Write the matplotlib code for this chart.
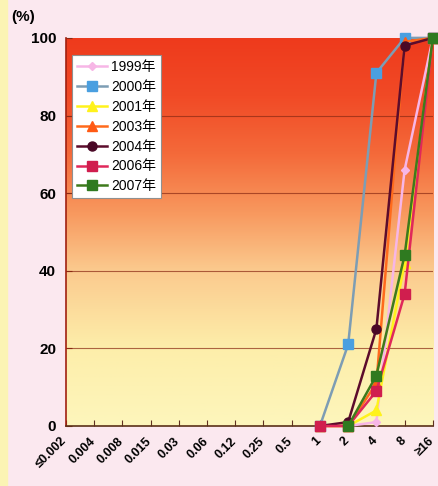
import matplotlib.pyplot as plt
from matplotlib.colors import LinearSegmentedColormap
from matplotlib.patches import Rectangle
from matplotlib.transforms import ScaledTranslation
import numpy as np

# MIC categories (x axis) and cumulative percentages per year
categories = ['≤0.002', '0.004', '0.008', '0.015', '0.03', '0.06', '0.12',
              '0.25', '0.5', '1', '2', '4', '8', '≥16']
nan = np.nan
pre = [nan] * 9
y1999 = pre + [0, 0, 1, 66, 100]
y2000 = pre + [0, 21, 91, 100, 100]
y2001 = pre + [0, 0, 4, 42, 100]
y2003 = pre + [0, 0, 11, 99, 100]
y2004 = pre + [0, 1, 25, 98, 100]
y2006 = pre + [0, 0, 9, 34, 100]
y2007 = pre + [nan, 0, 13, 44, 100]
series = [
    ('1999年', y1999, '#f7b6e6', '#f7b6e6', 'D', 4),
    ('2000年', y2000, '#7d9db4', '#4a9fe0', 's', 6.5),
    ('2001年', y2001, '#fff21c', '#fff21c', '^', 7),
    ('2003年', y2003, '#ff6a1c', '#ff5a14', '^', 7),
    ('2004年', y2004, '#5c0c2c', '#4a0826', 'o', 6.5),
    ('2006年', y2006, '#e0285a', '#d01e4e', 's', 6.5),
    ('2007年', y2007, '#3e7a1c', '#2f7a20', 's', 6.5),
]
yticks = [0, 20, 40, 60, 80, 100]
font = ['Liberation Sans', 'DejaVu Sans']

fig = plt.figure(figsize=(4.39, 4.86), dpi=100)
fig.patch.set_facecolor('#fbe8ef')
# pale yellow strip on the left edge
fig.add_artist(Rectangle((0, 0), 0.016, 1, transform=fig.transFigure,
                         color='#fbf4b4', zorder=0))
ax = fig.add_axes([0.150, 0.1235, 0.836, 0.7985])

# red-to-yellow gradient behind the plot
cmap = LinearSegmentedColormap.from_list('bg', [
    (0.0, '#fdf6bc'), (0.2, '#fdeeaa'), (0.4, '#fbca8e'),
    (0.55, '#f8985e'), (0.7, '#f46a3a'), (0.85, '#f14a26'),
    (1.0, '#ee3a1c')])
grad = np.linspace(0, 1, 256).reshape(-1, 1)
ax.imshow(grad, cmap=cmap, origin='lower', aspect='auto',
          extent=[0, len(categories) - 1, 0, 100], zorder=0)

x = np.arange(len(categories))
for name, vals, lc, mc, mk, ms in series:
    ax.plot(x, vals, color=lc, lw=1.8, marker=mk, markersize=ms,
            markerfacecolor=mc, markeredgecolor=mc, label=name, zorder=3,
            clip_on=False)

ax.set_xlim(0, len(categories) - 1)
ax.set_ylim(0, 100)
for v in yticks[1:-1]:
    ax.axhline(v, color='#8a2a14', lw=0.8, alpha=0.7, zorder=1)

# slanted category labels, placed by hand just left of each tick
ax.set_xticks(x)
ax.set_xticklabels([])
offset = ScaledTranslation(-5 / 100, -9 / 100, fig.dpi_scale_trans)
for xi, lbl in zip(x, categories):
    ax.text(xi, 0, lbl, transform=ax.get_xaxis_transform() + offset,
            rotation=45, ha='right', va='top', rotation_mode='anchor',
            fontsize=9, fontweight='bold', family=font)
ax.set_yticks(yticks)
ax.set_yticklabels([str(v) for v in yticks], fontsize=11, fontweight='bold',
                   family=font)
ax.tick_params(axis='x', direction='in', length=4, color='#603020')
ax.tick_params(axis='y', direction='in', length=4, color='#8a2a14', pad=7)
for s in ['top', 'right']:
    ax.spines[s].set_visible(False)
ax.spines['left'].set_color('#a02010')
ax.spines['bottom'].set_color('#5a3018')
ax.spines['left'].set_linewidth(1.2)
ax.spines['bottom'].set_linewidth(1.2)

fig.text(0.026, 0.966, '(%)', fontsize=11, fontweight='bold',
         family=font, va='center')

leg = ax.legend(loc='upper left', bbox_to_anchor=(0.016, 0.955),
                prop={'family': ['Liberation Sans', 'Noto Sans CJK JP'],
                      'size': 10},
                fancybox=False, framealpha=1, edgecolor='#909090',
                handlelength=2.2, labelspacing=0.42, borderpad=0.35,
                handletextpad=0.3, borderaxespad=0)
leg.get_frame().set_linewidth(0.8)

fig.savefig('out.png', dpi=100, facecolor=fig.get_facecolor())
